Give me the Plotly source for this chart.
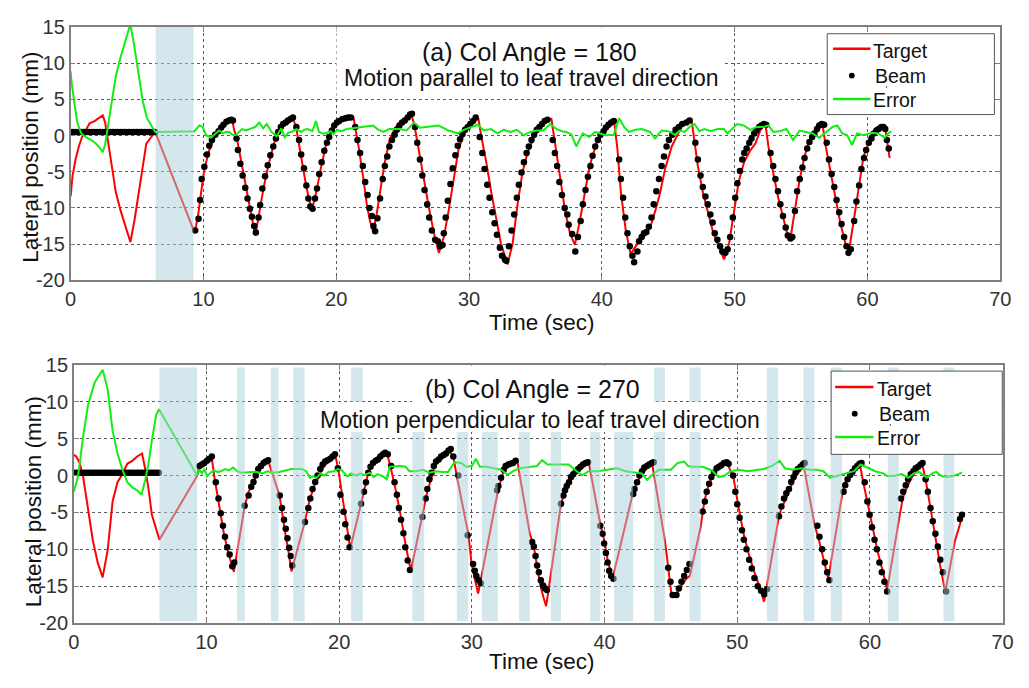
import plotly.graph_objects as go

# ---------------------------------------------------------------- data
# (a) collimator angle 180 : (time s, lateral position mm)
TARGET_A = [
    (0.0, -8.4), (0.15, -5.5), (0.37, -3.3), (0.62, -1.5), (0.86, -0.2), (1.18, 0.9), (1.43, 1.7),
    (1.8, 2.0), (2.17, 2.5), (2.42, 2.8), (2.6, 1.8), (2.79, -0.6), (3.04, -3.7), (3.4, -7.8),
    (3.77, -10.4), (4.07, -12.2), (4.5, -14.7), (4.8, -11.8), (5.13, -7.8), (5.45, -3.7), (5.7, -1.1),
    (5.99, -0.4), (6.37, 0.5), (9.33, -13.4), (9.58, -11.3), (9.83, -7.8), (10.07, -4.6), (10.44, -2.0),
    (10.81, -0.4), (11.2, 0.9), (11.55, 1.6), (11.93, 2.0), (12.17, 2.1), (12.3, 0.9), (12.54, -0.6),
    (12.91, -4.2), (13.28, -7.8), (13.65, -11.3), (13.9, -13.8), (14.15, -11.3), (14.52, -7.3),
    (14.88, -4.2), (15.25, -1.5), (15.63, 0.7), (16.0, 1.6), (16.37, 2.1), (16.74, 2.5), (17.0, 0.9),
    (17.36, -2.9), (17.73, -6.9), (18.15, -10.4), (18.5, -7.8), (18.83, -4.6), (19.2, -1.5), (19.58, 0.5),
    (19.95, 1.8), (20.3, 2.3), (20.8, 2.5), (21.3, 2.5), (21.68, -1.5), (22.05, -6.0), (22.3, -9.5),
    (22.54, -11.8), (22.79, -13.3), (23.04, -10.9), (23.29, -7.8), (23.65, -3.7), (24.02, -0.6),
    (24.39, 0.9), (24.76, 1.8), (25.26, 2.5), (25.63, 3.0), (25.87, 1.6), (26.24, -2.0), (26.6, -6.0),
    (26.98, -10.0), (27.36, -13.5), (27.73, -16.2), (28.1, -14.0), (28.46, -10.4), (28.84, -6.0),
    (29.2, -2.0), (29.58, 0.1), (29.95, 1.2), (30.3, 1.8), (30.7, 2.4), (30.93, -0.2), (31.3, -3.7),
    (31.67, -7.8), (32.04, -11.3), (32.4, -14.9), (32.9, -17.8), (33.28, -14.9), (33.65, -9.5),
    (34.02, -5.1), (34.4, -2.4), (34.9, -0.2), (35.4, 1.2), (35.9, 2.1), (36.2, 2.3), (36.5, -1.5),
    (36.86, -6.0), (37.23, -10.4), (37.6, -13.5), (37.97, -15.1), (38.34, -11.8), (38.7, -7.8),
    (39.08, -4.2), (39.58, -1.1), (40.07, 0.3), (40.56, 1.2), (40.93, 1.9), (41.18, -2.0), (41.43, -7.8),
    (41.8, -13.1), (42.17, -16.4), (42.54, -15.3), (42.9, -14.4), (43.28, -13.5), (43.65, -12.6),
    (44.02, -10.4), (44.4, -7.8), (44.76, -4.6), (45.26, -1.5), (46.0, 1.2), (46.5, 2.1), (46.74, 2.3),
    (46.98, -1.1), (47.23, -4.2), (47.6, -7.8), (47.97, -10.4), (48.34, -13.1), (48.7, -14.9),
    (49.2, -17.1), (49.58, -14.9), (49.95, -10.4), (50.3, -6.4), (50.7, -3.7), (51.19, -2.0),
    (51.56, -1.1), (51.93, 0.7), (52.3, 1.8), (52.54, -1.5), (52.9, -5.1), (53.28, -8.6), (53.65, -11.3),
    (54.02, -14.0), (54.2, -14.2), (54.5, -10.4), (54.9, -6.0), (55.26, -2.9), (55.63, -0.6), (56.0, 0.5),
    (56.37, 1.4), (56.6, 1.7), (56.86, -1.5), (57.23, -5.1), (57.6, -8.6), (57.97, -12.2), (58.34, -14.9),
    (58.6, -16.0), (58.96, -11.8), (59.33, -7.3), (59.7, -2.9), (60.07, -1.1), (60.44, 0.3), (60.8, 0.9),
    (61.19, 1.2), (61.3, 1.4), (61.43, -0.4), (61.67, -3.1),
]

BEAM_A = [
    (0.0, 0.5), (0.2, 0.5), (0.4, 0.5), (0.6, 0.5), (0.8, 0.5), (1.0, 0.5), (1.2, 0.5), (1.4, 0.5),
    (1.6, 0.5), (1.8, 0.5), (2.0, 0.5), (2.2, 0.5), (2.4, 0.5), (2.6, 0.5), (2.8, 0.5), (3.0, 0.5),
    (3.2, 0.5), (3.4, 0.5), (3.6, 0.5), (3.8, 0.5), (4.0, 0.5), (4.2, 0.5), (4.4, 0.5), (4.6, 0.5),
    (4.8, 0.5), (5.0, 0.5), (5.2, 0.5), (5.4, 0.5), (5.6, 0.5), (5.8, 0.5), (6.0, 0.5), (6.2, 0.5),
    (6.35, 0.5),
    (9.38, -13.1), (9.63, -11.5), (9.75, -8.9), (9.87, -6.0), (10.07, -4.3), (10.27, -2.6), (10.44, -1.4),
    (10.64, -0.6), (10.89, 0.1), (11.14, 0.6), (11.34, 1.1), (11.51, 1.5), (11.73, 1.9), (11.93, 2.1),
    (12.1, 2.2), (12.22, 2.1),
    (12.49, -0.4), (12.6, -2.0), (12.78, -3.9), (12.95, -5.5), (13.15, -7.2), (13.32, -8.7), (13.5, -10.1),
    (13.65, -11.2), (13.82, -12.5), (13.95, -13.4),
    (14.15, -11.3), (14.27, -9.6), (14.44, -7.3), (14.64, -5.6), (14.84, -4.1), (15.04, -2.7),
    (15.26, -1.5), (15.46, -0.4), (15.63, 0.5), (15.83, 1.2), (16.0, 1.6), (16.2, 1.8), (16.37, 2.1),
    (16.55, 2.3), (16.74, 2.5),
    (17.0, 1.2), (17.2, -0.6), (17.36, -2.6), (17.57, -4.5), (17.75, -6.9), (17.9, -8.7), (18.05, -9.8),
    (18.22, -10.1),
    (18.4, -8.7), (18.55, -7.3), (18.72, -5.3), (18.9, -3.7), (19.1, -2.1), (19.3, -1.0), (19.47, -0.2),
    (19.67, 0.7), (19.85, 1.4), (20.05, 1.8), (20.22, 2.0), (20.47, 2.3), (20.7, 2.4), (20.9, 2.5),
    (21.1, 2.5),
    (21.43, 1.2), (21.6, -0.6), (21.8, -2.4), (22.0, -4.2), (22.18, -6.4), (22.36, -8.2), (22.5, -10.0),
    (22.68, -11.1), (22.8, -12.5), (22.93, -13.2),
    (23.1, -11.4), (23.3, -8.7), (23.5, -6.0), (23.66, -4.2), (23.84, -2.9), (24.0, -1.5), (24.2, -0.6),
    (24.4, 0.1), (24.56, 0.8), (24.76, 1.4), (24.96, 1.8), (25.16, 2.1), (25.38, 2.5), (25.56, 2.9),
    (25.7, 3.0),
    (25.93, 1.2), (26.1, -1.0), (26.3, -3.3), (26.48, -5.5), (26.65, -7.5), (26.85, -9.5), (27.0, -11.3),
    (27.2, -13.1), (27.45, -14.4), (27.65, -14.6), (27.82, -15.3), (28.0, -15.1),
    (28.1, -13.5), (28.24, -11.3), (28.4, -9.0), (28.6, -6.7), (28.77, -4.5), (28.97, -2.7), (29.15, -1.4),
    (29.32, -0.5), (29.5, 0.2), (29.7, 0.8), (29.9, 1.2), (30.1, 1.6), (30.3, 2.0), (30.5, 2.5),
    (30.8, -0.2), (31.0, -2.4), (31.17, -4.6), (31.37, -6.8), (31.54, -8.6), (31.75, -10.6),
    (31.92, -12.1), (32.1, -13.7), (32.32, -15.5), (32.48, -16.6), (32.7, -17.1), (32.8, -17.3),
    (33.0, -15.3), (33.2, -13.1), (33.4, -10.9), (33.6, -8.6), (33.75, -6.8), (33.95, -5.1), (34.13, -3.7),
    (34.33, -2.4), (34.5, -1.5), (34.7, -0.6), (34.9, 0.1), (35.1, 0.8), (35.3, 1.2), (35.5, 1.6),
    (35.7, 2.0), (35.9, 2.2),
    (36.3, -0.6), (36.46, -2.4), (36.63, -4.2), (36.8, -6.4), (37.0, -8.2), (37.2, -10.0), (37.4, -10.9),
    (37.5, -12.3), (37.76, -13.6), (38.0, -16.0),
    (38.2, -14.0), (38.4, -11.8), (38.57, -9.5), (38.77, -7.5), (38.95, -5.7), (39.14, -4.2), (39.3, -2.8),
    (39.5, -1.5), (39.7, -0.6), (39.9, 0.1), (40.13, 0.6), (40.3, 1.1), (40.5, 1.5), (40.7, 1.8),
    (40.9, 2.0),
    (41.3, -3.3), (41.43, -6.0), (41.6, -8.6), (41.76, -11.3), (41.93, -13.5), (42.1, -15.3), (42.3, -16.6),
    (42.43, -17.5),
    (42.68, -16.0), (42.8, -14.6), (43.0, -14.0), (43.17, -13.5), (43.35, -13.3), (43.54, -12.6),
    (43.74, -11.3), (43.9, -9.5), (44.1, -7.7), (44.3, -6.0), (44.5, -4.2), (44.68, -2.9), (44.87, -1.5),
    (45.05, -0.6), (45.3, 0.1), (45.55, 0.8), (45.8, 1.2), (46.05, 1.6), (46.37, 1.8), (46.6, 2.1),
    (47.04, -1.0), (47.23, -3.3), (47.43, -5.5), (47.6, -7.1), (47.8, -8.4), (47.97, -9.5), (48.17, -10.9),
    (48.34, -12.0), (48.5, -13.5), (48.7, -14.4), (48.9, -15.3), (49.07, -16.0), (49.3, -16.2),
    (49.47, -15.7),
    (49.66, -14.0), (49.86, -11.3), (50.04, -8.6), (50.2, -6.6), (50.4, -4.9), (50.57, -3.3), (50.72, -2.4),
    (50.9, -1.8), (51.1, -1.0), (51.27, -0.4), (51.47, 0.3), (51.64, 0.7), (51.84, 1.2), (52.0, 1.4),
    (52.2, 1.6), (52.37, 1.5),
    (52.7, -2.4), (52.9, -4.2), (53.07, -6.0), (53.26, -7.7), (53.44, -9.5), (53.64, -11.1), (53.84, -12.7),
    (54.0, -13.8), (54.2, -14.2), (54.34, -14.0),
    (54.54, -10.4), (54.7, -7.7), (54.9, -6.0), (55.1, -4.4), (55.26, -3.1), (55.46, -1.8), (55.63, -0.9),
    (55.83, -0.2), (56.0, 0.3), (56.2, 0.9), (56.37, 1.4), (56.55, 1.6), (56.74, 1.5),
    (56.93, -1.0), (57.1, -3.3), (57.3, -5.3), (57.5, -7.1), (57.67, -8.9), (57.87, -10.6), (58.05, -12.2),
    (58.24, -14.0), (58.42, -15.3), (58.57, -16.2), (58.74, -15.7),
    (59.0, -11.8), (59.17, -9.1), (59.37, -6.9), (59.54, -4.6), (59.74, -3.1), (59.9, -2.0), (60.1, -1.0),
    (60.3, -0.4), (60.47, 0.3), (60.67, 0.7), (60.84, 0.9), (61.04, 1.2), (61.2, 1.2), (61.34, 0.9),
    (61.46, -0.6), (61.6, -1.8),
]

ERROR_A = [
    (0.0, 8.9), (0.07, 7.4), (0.3, 4.3), (0.5, 1.8), (0.8, 0.3), (1.2, -0.3), (1.55, -0.6), (1.9, -1.1),
    (2.2, -1.7), (2.42, -2.3), (2.6, -1.2), (2.79, 1.1), (3.04, 4.2), (3.4, 8.2), (3.77, 10.9),
    (4.07, 12.7), (4.5, 15.4), (4.8, 12.3), (5.13, 8.3), (5.45, 4.6), (5.75, 2.4), (6.05, 1.4),
    (6.37, 0.5), (9.33, 0.6), (9.7, 1.4), (9.95, 1.2), (10.2, 0.05), (10.56, -0.3), (10.94, 0.3),
    (11.18, 0.7), (11.45, 0.3), (11.68, 0.5), (11.93, 0.5), (12.2, 0.1), (12.42, 0.05), (12.7, 0.6),
    (12.91, 0.9), (13.2, 0.7), (13.53, 0.9), (13.9, 1.2), (14.2, 1.8), (14.5, 1.0), (14.76, 1.6),
    (15.13, 0.5), (15.5, -0.1), (15.87, 1.0), (16.12, -0.2), (16.4, 0.4), (16.62, 0.5), (17.0, 0.9),
    (17.36, 0.5), (17.6, 0.8), (17.85, 0.9), (18.2, 0.6), (18.47, 2.0), (18.71, 0.5), (18.95, 0.3),
    (19.2, 0.3), (19.58, 0.6), (19.8, 0.2), (20.07, 0.8), (20.4, 0.6), (20.8, 0.9), (21.3, 1.0),
    (21.8, 1.2), (22.3, 1.2), (22.78, 1.4), (23.1, 0.9), (23.52, 0.5), (24.0, 0.9), (24.75, 0.9),
    (25.3, 0.7), (25.86, 1.8), (26.3, 1.1), (26.97, 1.2), (27.7, 1.4), (28.44, 0.7), (29.18, 0.3),
    (29.6, 0.8), (30.17, 1.2), (30.66, 1.5), (31.1, 0.7), (31.65, 0.9), (32.15, 0.3), (32.6, 0.8),
    (33.13, 0.5), (33.6, 0.8), (34.12, 0.05), (34.6, 0.5), (35.1, 0.7), (35.6, 0.7), (36.1, 1.6),
    (36.6, 0.9), (37.0, 0.6), (37.33, 0.5), (37.7, 0.2), (38.07, -1.5), (38.56, 0.3), (39.06, -0.2),
    (39.5, 0.5), (39.8, 0.3), (40.3, 0.05), (40.9, 0.1), (41.3, 2.4), (41.67, 1.2), (42.04, 0.5),
    (42.53, 0.8), (43.0, 0.9), (43.64, 0.5), (44.0, -0.4), (44.5, 0.7), (45.0, 0.6), (45.5, 0.1),
    (45.87, 0.7), (46.24, 0.5), (46.61, 1.2), (46.98, 1.6), (47.35, 0.6), (47.72, 0.9), (48.21, 0.6),
    (48.7, 0.9), (49.2, 0.9), (49.45, 0.3), (49.7, 0.7), (50.19, 1.6), (50.68, 1.4), (51.18, 0.8),
    (51.67, 1.2), (52.17, 1.2), (52.54, 1.4), (52.91, 0.5), (53.4, 0.6), (53.9, 0.9), (54.39, -0.6),
    (54.89, 0.7), (55.38, 0.5), (55.88, 0.3), (56.37, -0.3), (56.86, 0.5), (57.36, 1.2), (57.73, 1.4),
    (58.1, 0.3), (58.47, 0.05), (58.84, -1.3), (59.21, 0.3), (59.7, 0.05), (60.32, 0.4), (60.81, 0.3),
    (61.3, -0.3), (61.55, 0.3), (61.8, 0.6),
]

# beam-off (gated) intervals, seconds
GATES_A = [(6.4, 9.25)]

# (b) collimator angle 270
TARGET_B = [
    (0.0, 2.8), (0.18, 2.6), (0.44, 1.7), (0.69, -0.05), (1.06, -4.4), (1.43, -8.8), (1.8, -11.8),
    (2.17, -13.8), (2.55, -10.1), (2.92, -3.5), (3.29, -0.9), (3.66, 0.2), (4.03, 1.6), (4.4, 2.0),
    (4.77, 2.6), (5.14, 3.0), (5.39, 0.8), (5.63, -1.8), (5.88, -5.3), (6.25, -7.5), (6.45, -8.7),
    (9.29, -0.05), (9.47, 1.3), (9.72, 1.7), (10.21, 2.1), (10.4, 2.35), (10.58, -0.05), (10.82, -2.7),
    (11.07, -5.3), (11.31, -7.9), (11.64, -10.5), (11.94, -12.5), (12.06, -13.05), (12.87, -4.2),
    (13.17, -2.2), (13.54, -0.9), (13.91, 0.8), (14.29, 1.5), (14.65, 2.0), (15.5, -2.7), (15.7, -5.3),
    (15.94, -7.9), (16.2, -10.5), (16.4, -13.0), (17.42, -6.2), (17.74, -3.5), (18.11, -1.4),
    (18.48, -0.05), (18.85, 1.3), (19.35, 2.1), (19.72, 2.7), (19.96, 0.5), (20.2, -2.5), (20.5, -6.3),
    (20.83, -9.9), (21.65, -3.8), (21.94, -1.4), (22.19, 0.4), (22.44, 1.5), (22.8, 2.1), (23.18, 2.8),
    (23.43, 3.0), (23.67, 2.6), (23.92, 0.8), (24.29, -2.2), (24.66, -5.7), (25.03, -9.65),
    (25.4, -12.9), (26.27, -5.6), (26.64, -2.2), (27.0, -0.05), (27.26, 1.7), (27.63, 2.35), (28.0, 2.8),
    (28.37, 3.2), (28.6, 2.6), (28.86, -0.05), (29.73, -7.9), (29.97, -11.8), (30.22, -14.0),
    (30.47, -16.0), (31.95, -2.2), (32.2, -0.5), (32.45, 1.0), (32.82, 1.5), (33.19, 1.7), (33.43, 1.9),
    (34.37, -7.9), (34.67, -9.65), (34.92, -12.3), (35.16, -14.9), (35.41, -16.6), (35.6, -17.7),
    (36.72, -3.8), (37.01, -2.2), (37.38, -0.9), (37.88, 0.4), (38.38, 1.3), (38.82, 1.7), (39.68, -6.6),
    (39.98, -8.8), (40.23, -11.4), (40.6, -14.0), (42.16, -2.2), (42.45, -0.9), (42.82, 0.2),
    (43.19, 1.0), (43.56, 1.9), (44.55, -8.8), (44.8, -12.3), (45.05, -16.2), (45.29, -16.4),
    (45.79, -14.9), (46.16, -14.0), (46.43, -13.6), (47.24, -7.0), (47.52, -3.5), (47.76, -1.8),
    (48.13, -0.05), (48.5, 0.8), (48.87, 1.5), (49.24, 1.8), (49.74, -0.5), (50.11, -4.4), (50.48, -7.9),
    (50.85, -10.5), (51.22, -12.7), (51.72, -15.3), (52.02, -17.1), (53.08, -6.2), (53.32, -4.4),
    (53.69, -3.1), (54.06, -1.4), (54.43, -0.05), (54.8, 0.8), (55.0, 1.5), (55.82, -6.6), (56.17, -8.8),
    (56.54, -11.4), (56.86, -14.0), (57.9, -2.7), (58.14, -0.9), (58.51, -0.05), (58.88, 0.8),
    (59.25, 1.5), (59.5, -0.9), (59.87, -4.0), (60.24, -7.5), (60.61, -10.5), (60.99, -13.1),
    (61.3, -15.5), (62.17, -6.2), (62.47, -3.1), (62.84, -1.4), (63.21, -0.05), (63.58, 0.8),
    (63.95, 1.5), (64.2, -0.5), (64.57, -4.4), (64.94, -8.8), (65.31, -12.3), (65.68, -15.8),
    (66.42, -8.8), (66.79, -6.6), (66.92, -5.5),
]

BEAM_B = [
    (0.0, 0.4), (0.2, 0.4), (0.4, 0.4), (0.6, 0.4), (0.8, 0.4), (1.0, 0.4), (1.2, 0.4), (1.4, 0.4),
    (1.6, 0.4), (1.8, 0.4), (2.0, 0.4), (2.2, 0.4), (2.4, 0.4), (2.6, 0.4), (2.8, 0.4), (3.0, 0.4),
    (3.2, 0.4), (3.4, 0.4), (3.6, 0.4), (3.8, 0.4), (4.0, 0.4), (4.2, 0.4), (4.4, 0.4), (4.6, 0.4),
    (4.8, 0.4), (5.0, 0.4), (5.2, 0.4), (5.4, 0.4), (5.6, 0.4), (5.8, 0.4), (6.0, 0.4), (6.2, 0.4),
    (6.4, 0.4),
    (9.47, 1.3), (9.65, 1.5), (9.83, 1.7), (10.03, 2.0), (10.23, 2.3), (10.4, 2.6),
    (10.7, -0.9), (10.9, -3.1), (11.07, -5.1), (11.24, -6.8), (11.39, -8.3), (11.56, -9.7), (11.74, -10.7),
    (11.94, -12.3), (12.1, -11.8),
    (12.87, -4.1), (13.17, -2.7), (13.37, -1.5), (13.54, -0.85), (13.71, 0.0), (13.9, 0.9), (14.1, 1.3),
    (14.3, 1.7), (14.47, 1.9), (14.65, 2.1),
    (15.52, -2.7), (15.69, -4.4), (15.84, -6.0), (15.97, -7.2), (16.1, -8.5), (16.23, -9.8),
    (16.35, -10.9), (16.47, -12.2),
    (17.42, -6.3), (17.67, -4.4), (17.82, -3.1), (17.99, -1.8), (18.19, -0.85), (18.37, 0.0), (18.57, 0.9),
    (18.75, 1.5), (18.94, 1.9), (19.12, 2.1), (19.32, 2.3), (19.5, 2.6), (19.68, 2.9),
    (19.9, 1.0), (20.09, -2.6), (20.33, -4.9), (20.46, -6.6), (20.63, -8.4), (20.78, -9.7),
    (21.65, -3.8), (21.87, -2.2), (22.02, -0.9), (22.19, 0.4), (22.36, 1.2), (22.55, 1.7), (22.75, 2.0),
    (22.92, 2.2), (23.1, 2.6), (23.3, 2.9), (23.46, 3.1), (23.66, 2.9),
    (23.92, 1.3), (24.17, -0.9), (24.35, -2.6), (24.5, -4.4), (24.66, -6.0), (24.84, -7.8), (24.98, -9.7),
    (25.16, -11.5), (25.33, -12.8),
    (26.27, -5.6), (26.52, -3.1), (26.64, -1.8), (26.8, -0.5), (26.96, 0.4), (27.13, 1.3), (27.3, 1.9),
    (27.5, 2.2), (27.68, 2.6), (27.87, 2.8), (28.05, 3.0), (28.24, 3.4), (28.41, 3.6), (28.6, 2.6),
    (28.98, 0.0), (29.68, -8.1),
    (30.09, -12.0), (30.22, -12.9), (30.34, -13.6), (30.52, -14.2), (30.67, -14.6),
    (31.9, -2.0), (32.0, -1.4), (32.2, -0.3), (32.4, 0.8), (32.55, 1.3), (32.75, 1.5), (32.9, 1.6),
    (33.1, 1.7), (33.3, 2.0),
    (34.54, -9.0), (34.67, -9.6), (34.8, -10.9), (34.92, -12.2), (35.05, -13.1), (35.2, -14.2),
    (35.37, -14.9), (35.52, -15.3), (35.66, -15.5),
    (36.72, -3.8), (36.9, -2.7), (37.02, -2.0), (37.15, -1.4), (37.32, -0.9), (37.47, -0.2), (37.64, 0.2),
    (37.84, 0.6), (38.01, 0.9), (38.19, 1.2), (38.38, 1.5), (38.58, 1.7), (38.75, 1.8),
    (39.68, -6.8), (39.85, -7.9), (39.97, -9.2), (40.1, -10.5), (40.23, -11.8), (40.35, -12.9),
    (40.5, -13.6), (40.67, -14.0),
    (42.16, -2.5), (42.26, -1.8), (42.45, -0.9), (42.63, 0.0), (42.82, 0.6), (43.0, 1.1), (43.19, 1.3),
    (43.36, 1.5), (43.56, 1.7), (43.7, 1.8),
    (44.8, -12.5), (44.97, -14.4), (45.13, -16.2), (45.42, -16.2), (45.6, -15.3), (45.8, -14.4),
    (46.0, -13.6), (46.2, -12.8), (46.4, -12.0),
    (47.39, -4.85), (47.56, -3.5), (47.7, -2.2), (47.88, -1.1), (48.05, -0.2), (48.25, 0.4), (48.45, 1.0),
    (48.62, 1.2), (48.8, 1.4), (49.0, 1.7), (49.2, 1.8), (49.35, 1.6),
    (49.69, 0.0), (49.86, -2.2), (50.0, -3.9), (50.18, -5.7), (50.36, -7.4), (50.5, -8.7), (50.7, -10.0),
    (50.9, -11.4), (51.1, -12.6), (51.3, -13.9), (51.55, -15.0), (51.8, -15.6), (52.05, -16.1),
    (52.25, -15.4),
    (53.15, -5.5), (53.33, -4.2), (53.53, -3.1), (53.7, -2.4), (53.9, -1.8), (54.07, -0.85), (54.25, -0.2),
    (54.4, 0.4), (54.57, 0.9), (54.77, 1.2), (54.94, 1.5), (55.08, 1.7),
    (56.04, -6.8), (56.2, -8.3), (56.4, -10.0), (56.6, -11.8), (56.78, -13.1), (56.95, -14.2),
    (58.02, -2.2), (58.14, -1.3), (58.32, -0.5), (58.51, 0.1), (58.68, 0.5), (58.88, 1.0), (59.05, 1.3),
    (59.22, 1.6), (59.37, 1.7),
    (59.61, -0.9), (59.81, -3.5), (59.98, -5.3), (60.16, -7.0), (60.35, -8.7), (60.53, -10.0),
    (60.72, -11.8), (60.9, -13.1), (61.1, -14.4), (61.3, -15.7),
    (62.34, -3.1), (62.51, -2.2), (62.7, -1.3), (62.88, -0.5), (63.08, 0.2), (63.28, 0.6), (63.45, 1.0),
    (63.63, 1.2), (63.82, 1.5), (63.97, 1.7),
    (64.2, -0.5), (64.37, -2.2), (64.57, -4.4), (64.74, -6.2), (64.94, -7.9), (65.12, -9.6), (65.31, -11.4),
    (65.5, -13.1), (65.75, -15.7),
    (66.79, -5.9), (66.94, -5.3),
]

ERROR_B = [
    (0.0, -2.2), (0.32, -0.05), (0.69, 5.2), (1.06, 9.5), (1.56, 12.6), (2.17, 14.35), (2.55, 11.7),
    (2.92, 6.1), (3.29, 3.0), (3.66, 0.8), (4.03, -0.9), (4.4, -1.6), (4.77, -2.0), (5.1, -2.6),
    (5.39, -0.5), (5.63, 1.7), (5.88, 4.75), (6.2, 8.2), (6.42, 9.0), (9.29, 0.0), (9.47, 0.8),
    (9.65, 0.3), (9.84, 0.9), (10.05, -0.1), (10.3, 0.4), (10.55, 0.7), (10.85, 0.5), (11.1, 0.6),
    (11.4, 0.9), (11.7, 0.7), (12.0, 1.1), (12.3, 0.6), (12.6, 0.4), (13.0, 0.5), (13.4, 0.5), (13.8, 0.5),
    (14.2, 0.3), (14.6, 0.6), (15.0, 0.4), (15.5, 0.5), (16.0, 0.7), (16.4, 0.9), (16.8, 0.9), (17.2, 0.9),
    (17.5, 0.6), (17.8, -0.3), (18.0, -0.1), (18.3, -0.3), (18.6, 0.3), (18.9, 0.0), (19.2, 0.5),
    (19.6, 0.6), (19.9, 0.9), (20.2, 0.7), (20.6, -0.1), (20.9, 0.3), (21.3, 0.0), (21.6, 0.3),
    (21.9, 0.05), (22.3, 0.4), (22.6, -0.2), (22.9, 0.2), (23.3, -0.1), (23.6, -0.5), (23.8, 1.2),
    (24.2, 1.3), (24.6, 1.3), (25.0, 1.2), (25.3, 0.6), (25.8, 0.6), (26.3, 0.8), (26.8, 0.4), (27.3, 0.6),
    (27.8, 0.5), (28.2, 0.5), (28.7, 1.8), (29.2, 1.7), (29.6, 1.2), (30.0, 1.3), (30.3, 2.3), (30.6, 1.2),
    (31.1, 1.2), (31.6, 1.0), (32.2, 0.8), (32.7, 0.1), (33.1, 0.6), (33.6, 1.0), (34.3, 1.2), (34.9, 1.3),
    (35.3, 2.1), (35.7, 1.5), (36.5, 1.5), (37.3, 1.5), (37.9, 0.6), (38.3, 0.05), (38.8, 0.6),
    (39.5, 0.6), (40.2, 0.8), (40.9, 1.0), (41.6, 0.6), (42.4, 0.4), (42.8, 0.3), (43.2, -0.6),
    (43.5, -0.05), (44.1, 0.8), (44.6, 0.8), (45.0, 0.8), (45.5, 1.7), (46.0, 1.9), (46.3, 1.3),
    (46.6, 1.2), (47.4, 1.2), (48.1, 0.7), (48.6, -0.2), (49.0, -0.05), (49.5, 0.6), (50.1, 0.8),
    (50.8, 0.6), (51.4, 0.8), (52.0, 0.9), (52.6, 1.3), (53.2, 2.0), (53.6, 1.0), (54.2, 0.8), (54.8, 1.0),
    (55.5, 0.8), (56.0, 0.8), (56.5, 0.6), (57.0, -0.3), (57.6, -0.05), (58.2, 0.3), (58.8, 0.6),
    (59.3, 1.5), (59.8, 1.1), (60.4, 0.6), (61.0, 0.3), (61.3, -0.05), (61.8, -0.05), (62.4, 0.2),
    (62.9, -0.3), (63.3, 0.3), (63.7, 0.5), (64.0, 0.1), (64.3, -0.3), (64.7, 0.3), (65.0, 0.5),
    (65.4, -0.05), (65.7, -0.2), (66.2, -0.1), (66.7, 0.2), (66.95, 0.4),
]

GATES_B = [
    (6.45, 9.29), (12.3, 12.88), (14.85, 15.42), (16.53, 17.4), (20.9, 21.77), (25.52, 26.41),
    (28.86, 29.73), (30.76, 31.95), (33.56, 34.37), (35.95, 36.72), (38.92, 39.68), (40.72, 42.16),
    (43.73, 44.55), (46.4, 47.24), (52.24, 53.08), (55.0, 55.82), (57.05, 57.9), (61.35, 62.17),
    (65.55, 66.37),
]

X_TICKS = [0, 10, 20, 30, 40, 50, 60, 70]
Y_TICKS = [-20, -15, -10, -5, 0, 5, 10, 15]
Y_TICK_TEXT = ["-20", "-15", "-10", "-5", "0", "5", "10", "15"]

# ---------------------------------------------------------------- style
W, H = 1029, 688
FONT = "Liberation Sans, Arial, Helvetica, sans-serif"
RED, GREEN, BLACK = "#ff0000", "#12ee12", "#000000"
GATE_FILL = "rgba(170,208,219,0.5)"


def fx(p):
    return p / W


def fy(p):
    return 1 - p / H


def split(pairs):
    return [p[0] for p in pairs], [p[1] for p in pairs]


fig = go.Figure()

panels = [
    ("x", "y", TARGET_A, BEAM_A, ERROR_A),
    ("x2", "y2", TARGET_B, BEAM_B, ERROR_B),
]
for xa, ya, tgt, beam, err in panels:
    tx, ty = split(tgt)
    bx, by = split(beam)
    ex, ey = split(err)
    fig.add_trace(go.Scatter(x=tx, y=ty, mode="lines", line=dict(color=RED, width=2),
                             xaxis=xa, yaxis=ya, showlegend=False, name="Target"))
    fig.add_trace(go.Scatter(x=bx, y=by, mode="markers", marker=dict(color=BLACK, size=6.5),
                             xaxis=xa, yaxis=ya, showlegend=False, name="Beam"))
    fig.add_trace(go.Scatter(x=ex, y=ey, mode="lines", line=dict(color=GREEN, width=2),
                             xaxis=xa, yaxis=ya, showlegend=False, name="Error"))

shapes = []
# gated intervals, drawn over the curves so they appear washed out
for g0, g1 in GATES_A:
    shapes.append(dict(type="rect", xref="x", yref="y", x0=g0, x1=g1, y0=-20, y1=15,
                       fillcolor=GATE_FILL, line=dict(width=0), layer="above"))
for g0, g1 in GATES_B:
    shapes.append(dict(type="rect", xref="x2", yref="y2", x0=g0, x1=g1, y0=-19.75, y1=14.65,
                       fillcolor=GATE_FILL, line=dict(width=0), layer="above"))

# white panels behind the in-plot titles
for x0, x1, y0, y1 in [(336, 729, 17, 91), (413, 658, 366.5, 404), (310, 771, 404, 435)]:
    shapes.append(dict(type="rect", xref="paper", yref="paper", x0=fx(x0), x1=fx(x1),
                       y0=fy(y1), y1=fy(y0), fillcolor="white", line=dict(width=0), layer="above"))

annotations = []


def text(s, x, y, size, anchor="center", angle=0, color="#111111"):
    annotations.append(dict(text=s, x=fx(x), y=fy(y), xref="paper", yref="paper", showarrow=False,
                            xanchor=anchor, yanchor="middle", textangle=angle,
                            font=dict(family=FONT, size=size, color=color)))


# legends
for (bx0, by0, bx1, by1), (lx0, lx1, tx), (yt, yb, ye), dotx in [
    ((835, 23.5, 1005, 107), (841, 879, 880), (39, 66.7, 91), 860),
    ((839, 372, 1013, 458), (843, 882, 884), (388.5, 416, 440), 863),
]:
    shapes.append(dict(type="rect", xref="paper", yref="paper", x0=fx(bx0), x1=fx(bx1),
                       y0=fy(by1), y1=fy(by0), fillcolor="white",
                       line=dict(color="#555555", width=1), layer="above"))
    shapes.append(dict(type="line", xref="paper", yref="paper", x0=fx(lx0), x1=fx(lx1),
                       y0=fy(yt), y1=fy(yt), line=dict(color=RED, width=2.5), layer="above"))
    shapes.append(dict(type="line", xref="paper", yref="paper", x0=fx(lx0), x1=fx(lx1),
                       y0=fy(ye), y1=fy(ye), line=dict(color=GREEN, width=2.5), layer="above"))
    shapes.append(dict(type="circle", xref="paper", yref="paper", x0=fx(dotx - 3), x1=fx(dotx + 3),
                       y0=fy(yb + 3), y1=fy(yb - 3), fillcolor=BLACK, line=dict(width=0),
                       layer="above"))
    shapes.append(dict(type="circle", xref="paper", yref="paper", x0=fx(tx + 14.5), x1=fx(tx + 16),
                       y0=fy(yb + 12.5), y1=fy(yb + 11), fillcolor="#333333", line=dict(width=0),
                       layer="above"))
    text("Target", tx, yt + 2, 19.5, "left")
    text("Beam", tx + 2, yb + 0.5, 19.5, "left")
    text("Error", tx, ye + 1.3, 19.5, "left")

# titles inside the panels
text("(a) Col Angle = 180", 532, 42, 25)
text("Motion parallel to leaf travel direction", 534, 69, 23)
text("(b) Col Angle = 270", 535, 390, 25)
text("Motion perpendicular to leaf travel direction", 543, 422, 23)

# axis titles
text("Lateral position (mm)", 25, 151, 22.5, angle=-90)
text("Lateral position (mm)", 28, 507, 22.5, angle=-90)
text("Time (sec)", 544, 322, 22.5)
text("Time (sec)", 545, 672, 22.5)

axis_common = dict(showgrid=True, gridcolor="#5a5a5a", griddash="dot", gridwidth=1,
                   zeroline=False, showline=True, linecolor="#808080", linewidth=1.5,
                   mirror="ticks", ticks="inside", ticklen=5, tickcolor="#808080",
                   tickfont=dict(family=FONT, size=20, color="#333333"))

fig.update_layout(
    width=W, height=H, margin=dict(l=0, r=0, t=0, b=0),
    paper_bgcolor="white", plot_bgcolor="white", showlegend=False,
    xaxis=dict(domain=[fx(65.7), fx(1011)], range=[0, 70], tickvals=X_TICKS, anchor="y",
               **axis_common),
    yaxis=dict(domain=[fy(278.3), fy(16.5)], range=[-20, 15], tickvals=Y_TICKS,
               ticktext=Y_TICK_TEXT, anchor="x", **axis_common),
    xaxis2=dict(domain=[fx(69), fx(1013.3)], range=[0, 70], tickvals=X_TICKS, anchor="y2",
                **axis_common),
    yaxis2=dict(domain=[fy(632.3), fy(365.7)], range=[-20, 15], tickvals=Y_TICKS,
                ticktext=Y_TICK_TEXT, anchor="x2", **axis_common),
    shapes=shapes,
    annotations=annotations,
)

fig.write_html("out.html")
